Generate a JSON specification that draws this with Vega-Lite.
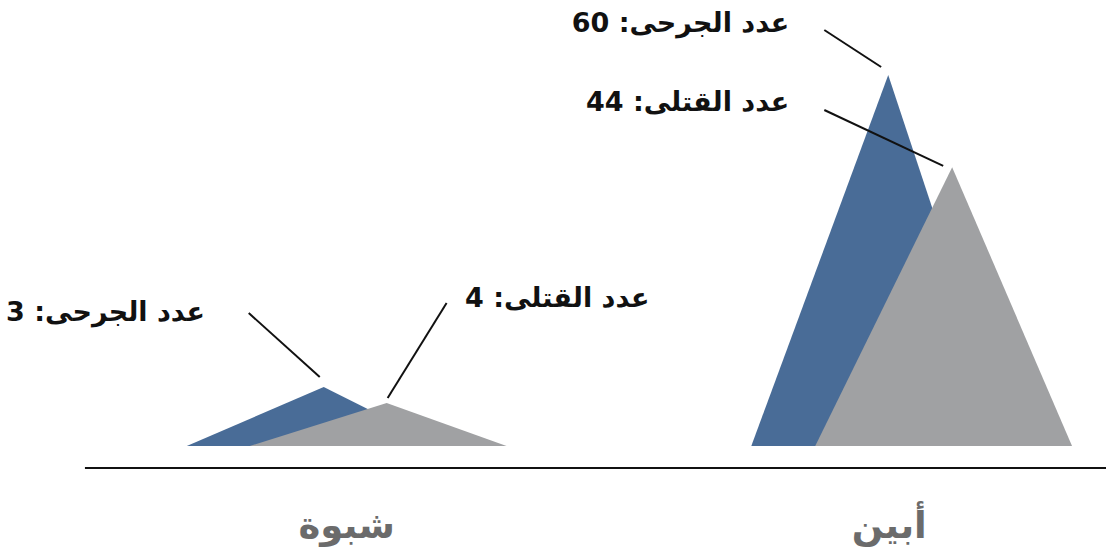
{
  "$schema": "https://vega.github.io/schema/vega-lite/v6.json",
  "autosize": {"type": "fit", "contains": "padding"},
  "width": 1107,
  "height": 558,
  "padding": 0,
  "background": "white",
  "config": {"view": {"stroke": null}},
  "datasets": {
    "tri": [
      {"series": "wounded", "region": "شبوة", "x": 16.89, "h": 0},
      {"series": "wounded", "region": "شبوة", "x": 29.27, "h": 9.54},
      {"series": "wounded", "region": "شبوة", "x": 39.93, "h": 0},
      {"series": "killed", "region": "شبوة", "x": 22.58, "h": 0},
      {"series": "killed", "region": "شبوة", "x": 34.96, "h": 6.95},
      {"series": "killed", "region": "شبوة", "x": 45.8, "h": 0},
      {"series": "wounded", "region": "أبين", "x": 67.93, "h": 0},
      {"series": "wounded", "region": "أبين", "x": 80.31, "h": 60},
      {"series": "wounded", "region": "أبين", "x": 91.42, "h": 0},
      {"series": "killed", "region": "أبين", "x": 73.71, "h": 0},
      {"series": "killed", "region": "أبين", "x": 86.09, "h": 45.1},
      {"series": "killed", "region": "أبين", "x": 96.93, "h": 0}
    ],
    "leaders": [
      {"x": 74.53, "x2": 79.67, "y": 67.28, "y2": 61.3},
      {"x": 74.53, "x2": 85.28, "y": 54.34, "y2": 45.29},
      {"x": 22.49, "x2": 28.91, "y": 21.51, "y2": 11.16},
      {"x": 40.38, "x2": 35.05, "y": 23.13, "y2": 7.76}
    ],
    "labels": [
      {"label": "عدد الجرحى: 60", "x": 71.36, "y": 68.3},
      {"label": "عدد القتلى: 44", "x": 71.36, "y": 55.4},
      {"label": "عدد الجرحى: 3", "x": 18.52, "y": 21.5},
      {"label": "عدد القتلى: 4", "x": 58.72, "y": 23.7}
    ],
    "baseline": [{"x": 7.68, "x2": 100, "y": -3.56}],
    "cats": [
      {"region": "شبوة", "x": 31.35, "y": -13.1},
      {"region": "أبين", "x": 80.4, "y": -13.1}
    ]
  },
  "layer": [
    {
      "data": {"name": "tri"},
      "transform": [{"filter": "datum.series === 'wounded'"}],
      "mark": {"type": "area", "color": "#496c97"},
      "encoding": {
        "x": {"field": "x", "type": "quantitative", "scale": {"domain": [0, 100], "nice": false, "zero": false}, "axis": null},
        "y": {"field": "h", "type": "quantitative", "stack": null, "scale": {"domain": [-18.11, 72.13], "nice": false, "zero": false}, "axis": null},
        "detail": {"field": "region"}
      }
    },
    {
      "data": {"name": "tri"},
      "transform": [{"filter": "datum.series === 'killed'"}],
      "mark": {"type": "area", "color": "#a0a1a3"},
      "encoding": {
        "x": {"field": "x", "type": "quantitative"},
        "y": {"field": "h", "type": "quantitative", "stack": null},
        "detail": {"field": "region"}
      }
    },
    {
      "data": {"name": "leaders"},
      "mark": {"type": "rule", "color": "#111111", "strokeWidth": 2},
      "encoding": {
        "x": {"field": "x", "type": "quantitative"},
        "x2": {"field": "x2"},
        "y": {"field": "y", "type": "quantitative"},
        "y2": {"field": "y2"}
      }
    },
    {
      "data": {"name": "baseline"},
      "mark": {"type": "rule", "color": "#111111", "strokeWidth": 2},
      "encoding": {
        "x": {"field": "x", "type": "quantitative"},
        "x2": {"field": "x2"},
        "y": {"field": "y", "type": "quantitative"}
      }
    },
    {
      "data": {"name": "labels"},
      "mark": {"type": "text", "align": "right", "baseline": "middle", "font": "DejaVu Sans", "fontWeight": "bold", "fontSize": 27, "color": "#111111"},
      "encoding": {
        "x": {"field": "x", "type": "quantitative"},
        "y": {"field": "y", "type": "quantitative"},
        "text": {"field": "label"}
      }
    },
    {
      "data": {"name": "cats"},
      "mark": {"type": "text", "align": "center", "baseline": "middle", "font": "DejaVu Sans", "fontWeight": "bold", "fontSize": 37, "color": "#6b6b6b"},
      "encoding": {
        "x": {"field": "x", "type": "quantitative"},
        "y": {"field": "y", "type": "quantitative"},
        "text": {"field": "region"}
      }
    }
  ]
}
